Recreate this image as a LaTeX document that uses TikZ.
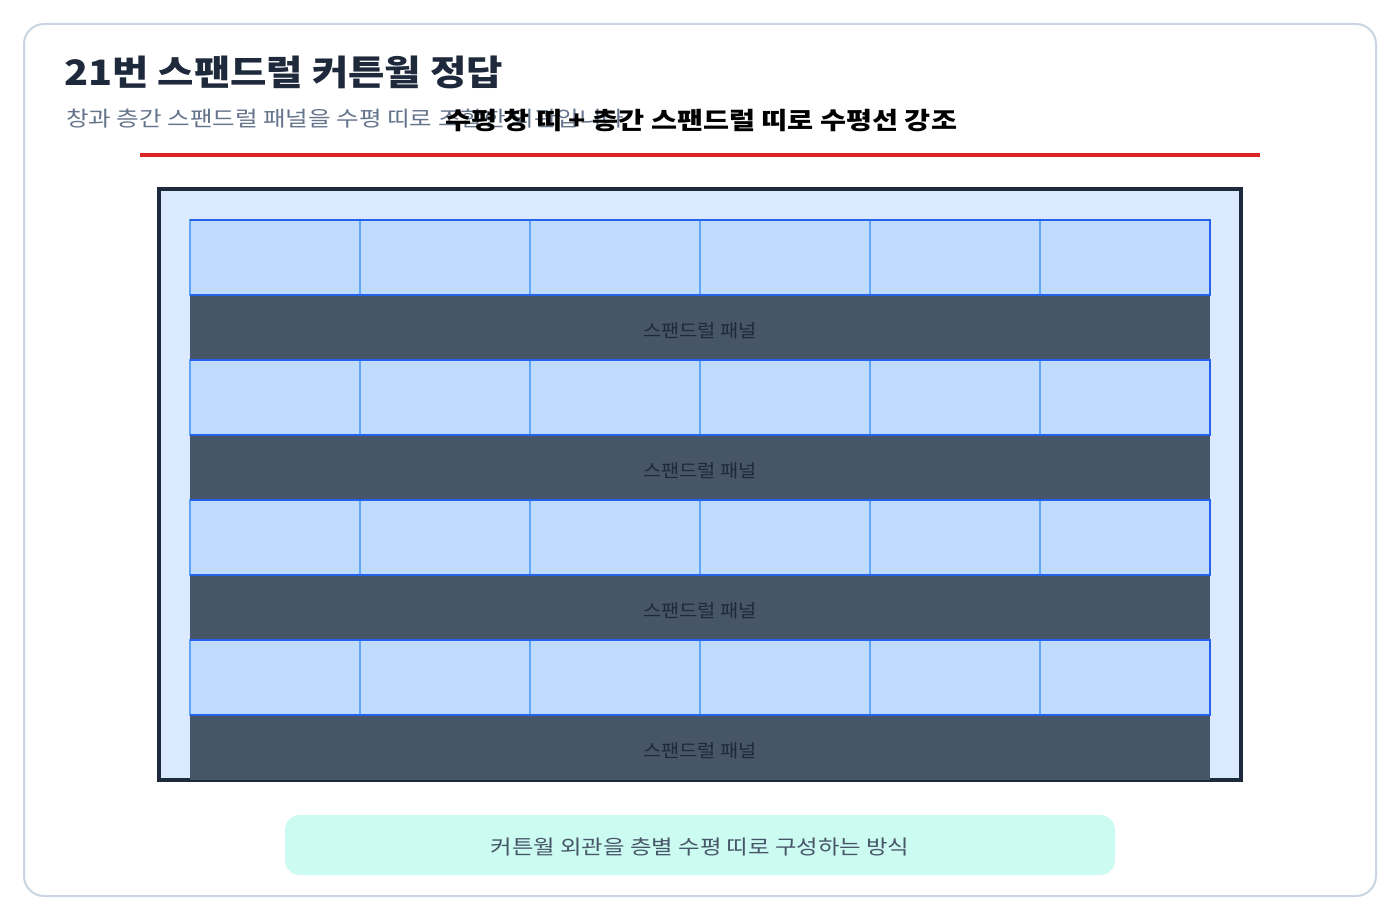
\documentclass[tikz,border=0pt]{standalone}
\usepackage{fontspec}
\usepackage{graphicx}
\setmainfont{Noto Sans CJK KR}
\usetikzlibrary{positioning}

\definecolor{cardline}{HTML}{CBD5E1}
\definecolor{titleink}{HTML}{1E293B}
\definecolor{subink}{HTML}{64748B}
\definecolor{accent}{HTML}{DC2626}
\definecolor{framefill}{HTML}{DBEAFE}
\definecolor{frameline}{HTML}{1E293B}
\definecolor{winfill}{HTML}{BFDBFE}
\definecolor{winline}{HTML}{60A5FA}
\definecolor{bandline}{HTML}{2563EB}
\definecolor{spanfill}{HTML}{475569}
\definecolor{notefill}{HTML}{CCFBF1}
\definecolor{noteink}{HTML}{475569}

\begin{document}
\begin{tikzpicture}[x=1pt, y=-1pt, inner sep=0pt, outer sep=0pt,
	window/.style={draw=winline, line width=2pt, fill=winfill, minimum width=170pt, minimum height=75pt},
	spandrel/.style={fill=spanfill, minimum width=1020pt, minimum height=65pt, text=titleink, font=\fontsize{18}{20}\selectfont},
	band/.style={draw=bandline, line width=2.5pt}]
	
	\useasboundingbox (0,0) rectangle (1400,920);
	\draw[cardline, line width=2pt, fill=white, rounded corners=20pt] (24,24) rectangle (1376,896);
	
	\node (title) [anchor=base west, text=titleink, font=\fontsize{35}{40}\selectfont\bfseries] at (64,86) {\scalebox{1.13}[1]{21번 스팬드럴 커튼월 정답}};
	\node (sub) [anchor=base west, text=subink, font=\fontsize{21}{24}\selectfont] at (66,127) {\scalebox{1.17}[1]{창과 층간 스팬드럴 패널을 수평 띠로 조합한 외관입니다}};
	\node (key) [anchor=base west, text=black, font=\fontsize{24}{28}\selectfont\bfseries] at (445,130) {\scalebox{1.18}[1]{수평 창 띠 + 층간 스팬드럴 띠로 수평선 강조}};
	\draw[accent, line width=4pt] (140,155) -- (1260,155);
	
	\node (frame) [draw=frameline, line width=4pt, fill=framefill, minimum width=1082pt, minimum height=591pt] at (700,484.5) {};
	
	% spandrel panels between the floors
	\foreach \r/\y in {1/327.5, 2/467.5, 3/607.5, 4/747.5}
		\node (s\r) [spandrel] at (700,\y) {\raisebox{-9.5pt}[0pt][0pt]{\scalebox{1.1}[1]{스팬드럴 패널}}};
	
	% window bands
	\foreach \r/\y in {1/257.5, 2/397.5, 3/537.5, 4/677.5} {
		\node (w\r1) [window] at (275,\y) {};
		\foreach \c [count=\p] in {2,...,6}
			\node (w\r\c) [window, right=0pt of w\r\p] {};
		\draw[band] (w\r1.north west) -- (w\r6.north east) -- (w\r6.south east) -- (w\r1.south west);
	}
	
	\node (note) [fill=notefill, rounded corners=15pt, minimum width=830pt, minimum height=60pt, text=noteink, font=\fontsize{20}{24}\selectfont] at (700,845) {\raisebox{-9.5pt}[0pt][0pt]{\scalebox{1.17}[1]{커튼월 외관을 층별 수평 띠로 구성하는 방식}}};
	
\end{tikzpicture}
\end{document}
